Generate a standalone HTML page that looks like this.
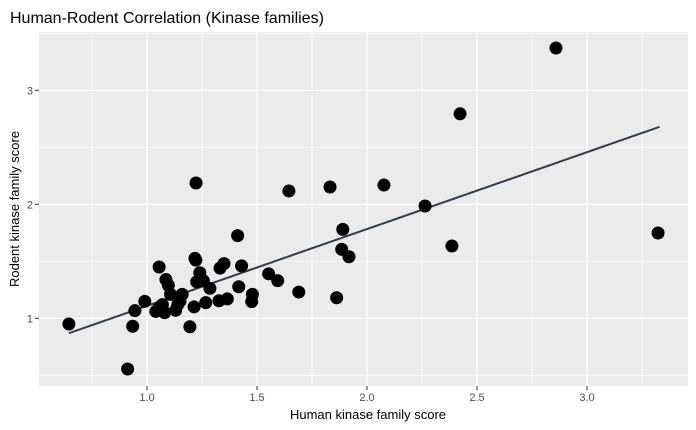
<!DOCTYPE html>
<html><head><meta charset="utf-8"><style>
body{margin:0;background:#fff;}
svg{display:block;font-family:"Liberation Sans",Arial,sans-serif;}
</style></head><body>
<svg id="chart" width="696" height="430" viewBox="0 0 696 430">
<text x="10" y="23" font-size="16" fill="#000">Human-Rodent Correlation (Kinase families)</text>
<rect x="39" y="32" width="649" height="354" fill="#ebebeb"/>
<g id="grid"></g><g id="line"></g><g id="points"></g><g id="axes"></g>
<text x="368" y="419" font-size="13" text-anchor="middle" fill="#000">Human kinase family score</text>
<text transform="translate(19,209) rotate(-90)" font-size="13" text-anchor="middle" fill="#000">Rodent kinase family score</text>
</svg>
<script>
const humanScores=[0.645,0.912,0.935,0.945,0.99,1.04,1.05,1.06,1.07,1.08,1.055,1.086,1.097,1.107,1.13,1.15,1.16,1.14,1.195,1.214,1.218,1.222,1.24,1.226,1.256,1.267,1.286,1.327,1.332,1.35,1.365,1.412,1.417,1.43,1.479,1.476,1.553,1.594,1.69,1.862,1.885,1.918,1.89,1.223,1.645,1.832,2.077,2.264,2.386,2.423,2.859,3.323];
const rodentScores=[0.95,0.555,0.93,1.067,1.149,1.06,1.08,1.1,1.12,1.05,1.45,1.34,1.29,1.21,1.07,1.15,1.21,1.12,0.926,1.10,1.526,1.51,1.40,1.32,1.33,1.137,1.263,1.154,1.44,1.48,1.17,1.725,1.277,1.46,1.21,1.146,1.39,1.33,1.23,1.18,1.605,1.54,1.78,2.187,2.117,2.152,2.169,1.985,1.634,2.794,3.371,1.748];
const fitCoef=[0.435,0.674];
const fitRange=[0.645,3.33];
const xTicks=[1.0,1.5,2.0,2.5,3.0];
const xTickLabels=["1.0","1.5","2.0","2.5","3.0"];
const yTicks=[1,2,3];
const yTickLabels=["1","2","3"];
const xMinor=[0.75,1.25,1.75,2.25,2.75,3.25];
const yMinor=[0.5,1.5,2.5,3.5];
const NS="http://www.w3.org/2000/svg";
const L=39,R=688,T=32,B=386;
const xs=v=>147+(v-1)*220;
const ys=v=>318.3-(v-1)*114;
function mk(tag,attrs,parent){const e=document.createElementNS(NS,tag);for(const k in attrs)e.setAttribute(k,attrs[k]);parent.appendChild(e);return e;}
const grid=document.getElementById('grid'),axes=document.getElementById('axes');
xMinor.forEach(v=>{const e=mk('line',{x1:xs(v),x2:xs(v),y1:T,y2:B,stroke:'#fff','stroke-width':0.6},grid);

});
yMinor.forEach(v=>{if(ys(v)<T||ys(v)>B)return;const e=mk('line',{x1:L,x2:R,y1:ys(v),y2:ys(v),stroke:'#fff','stroke-width':0.6},grid);

});
xTicks.forEach((v,i)=>{const e=mk('line',{x1:xs(v),x2:xs(v),y1:T,y2:B,stroke:'#fff','stroke-width':1.2},grid);


const t=mk('line',{x1:xs(v),x2:xs(v),y1:B,y2:B+4,stroke:'#333','stroke-width':1},axes);


const l=mk('text',{x:xs(v),y:B+15,'font-size':11,'text-anchor':'middle',fill:'#4d4d4d'},axes);l.textContent=xTickLabels[i];

});
yTicks.forEach((v,i)=>{const e=mk('line',{x1:L,x2:R,y1:ys(v),y2:ys(v),stroke:'#fff','stroke-width':1.2},grid);


const t=mk('line',{x1:L-4,x2:L,y1:ys(v),y2:ys(v),stroke:'#333','stroke-width':1},axes);


const l=mk('text',{x:L-6,y:ys(v)+4,'font-size':11,'text-anchor':'end',fill:'#4d4d4d'},axes);l.textContent=yTickLabels[i];

});
const pts=document.getElementById('points');
humanScores.forEach((h,i)=>{const c=mk('circle',{cx:xs(h),cy:ys(rodentScores[i]),r:6.5,fill:'#000'},pts);

});
const ln=mk('line',{x1:xs(fitRange[0]),y1:ys(fitCoef[0]+fitCoef[1]*fitRange[0]),x2:xs(fitRange[1]),y2:ys(fitCoef[0]+fitCoef[1]*fitRange[1]),stroke:'#2c3e50','stroke-width':2},document.getElementById('line'));


</script>
</body></html>
